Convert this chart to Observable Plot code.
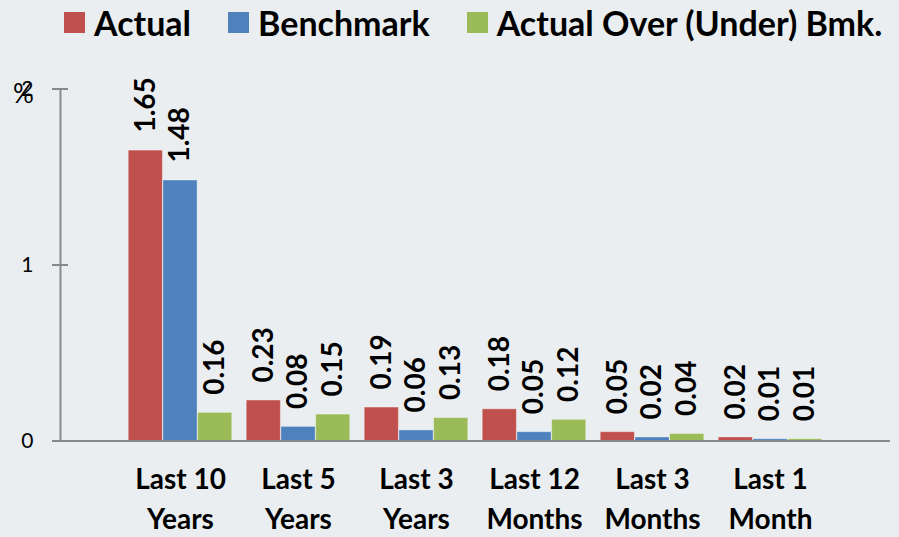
<!DOCTYPE html>
<html><head><meta charset="utf-8">
<script src="https://cdn.jsdelivr.net/npm/d3@7"></script>
<script src="https://cdn.jsdelivr.net/npm/@observablehq/plot@0.6"></script>
<style>
html,body{margin:0;padding:0;background:#eaeef0;}
#wrap{width:899px;height:537px;overflow:hidden;font-family:Lato,sans-serif;}
#legend{height:45px;display:flex;align-items:center;padding-left:64px;box-sizing:border-box;white-space:nowrap;}
.item{display:flex;align-items:center;flex-shrink:0;margin-right:37px;font-weight:700;font-size:34px;line-height:34px;color:#000;}
.sw{width:21px;height:21px;margin-right:9px;flex-shrink:0;}
#chart svg{display:block;}
</style></head><body><div id="wrap"><div id="legend"></div><div id="chart"></div></div>
<script>
// ---- data ----
const categories = ["Last 10 Years", "Last 5 Years", "Last 3 Years", "Last 12 Months", "Last 3 Months", "Last 1 Month"];
const tickLabels = ["Last 10\nYears", "Last 5\nYears", "Last 3\nYears", "Last 12\nMonths", "Last 3\nMonths", "Last 1\nMonth"];
const seriesNames = ["Actual", "Benchmark", "Actual Over (Under) Bmk."];
const seriesColors = ["#c0504d", "#4f81bd", "#9bbb59"];
const actual = [1.65, 0.23, 0.19, 0.18, 0.05, 0.02];
const benchmark = [1.48, 0.08, 0.06, 0.05, 0.02, 0.01];
const overUnder = [0.16, 0.15, 0.13, 0.12, 0.04, 0.01];
const yTicks = [0, 1, 2];
const yUnit = "%";

// ---- build ----
const seriesValues = [actual, benchmark, overUnder];
const rows = seriesNames.flatMap((s, si) => categories.map((c, ci) => ({category: c, series: s, value: seriesValues[si][ci]})));
const fmt = d3.format(".2f");

const legend = document.getElementById("legend");
seriesNames.forEach((s, i) => {
  const it = document.createElement("div"); it.className = "item";
  const sw = document.createElement("span"); sw.className = "sw"; sw.style.background = seriesColors[i];
  const tx = document.createElement("span"); tx.textContent = s;
  it.appendChild(sw); it.appendChild(tx); legend.appendChild(it);
});

const W = 899, H = 492, ML = 60, MR = 9, MT = 43.5, MB = 96.5;
const step = (W - ML - MR) / (categories.length + 1);
const barW = 34.7;
const groupPad = (step - barW * seriesNames.length) / 2;
const axisColor = "#898989";

const marks = [
  Plot.frame({anchor: "left", stroke: axisColor, strokeWidth: 2}),
  Plot.axisY({ticks: yTicks, tickSize: 16, dx: 8, tickFormat: () => "", stroke: axisColor, strokeWidth: 2}),
  Plot.axisY({ticks: yTicks, tickSize: 0, tickPadding: 27, fontSize: 21, fill: "#000", tickFormat: d3.format("d")}),
  Plot.text([yUnit], {frameAnchor: "top-left", dx: -37, dy: 6, fontSize: 26, fill: "#000", textAnchor: "middle", lineAnchor: "middle"})
];
seriesNames.forEach((s, i) => {
  const d = rows.filter(r => r.series === s);
  marks.push(Plot.barY(d, {
    x: "category", y: "value", fill: seriesColors[i],
    insetLeft: groupPad + i * barW, insetRight: step - groupPad - (i + 1) * barW,
    stroke: "#fff", strokeOpacity: 0.35, strokeWidth: 1
  }));
  marks.push(Plot.text(d, {
    x: "category", y: "value", text: r => fmt(r.value), rotate: -90,
    textAnchor: "start", lineAnchor: "middle", dy: -18, dx: (i - 1) * barW,
    fontSize: 28, fontWeight: "bold", fill: "#000"
  }));
});
marks.push(Plot.ruleY([0], {stroke: axisColor, strokeWidth: 2, insetLeft: -8}));
marks.push(Plot.axisX({
  tickSize: 0, tickPadding: 20, fontSize: 28, fontWeight: "bold", lineHeight: 1.43, fill: "#000",
  tickFormat: d => tickLabels[categories.indexOf(d)]
}));

const chart = Plot.plot({
  width: W, height: H,
  marginLeft: ML, marginRight: MR, marginTop: MT, marginBottom: MB,
  style: {background: "#eaeef0", fontFamily: "Lato, sans-serif", color: "#000"},
  x: {domain: categories, paddingInner: 0, paddingOuter: 0.5, label: null},
  y: {domain: [0, 2], label: null},
  marks
});
document.getElementById("chart").appendChild(chart);
</script>
</body></html>
